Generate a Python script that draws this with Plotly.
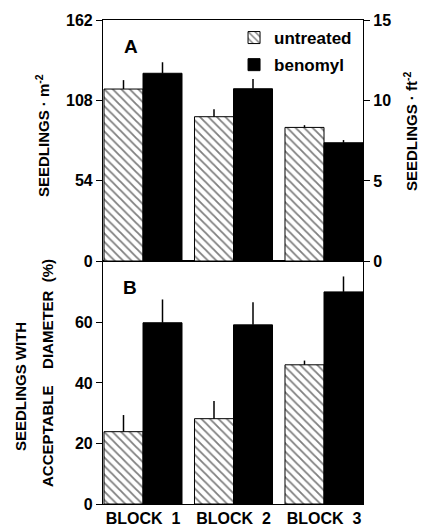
import plotly.graph_objects as go

blocks = [1, 2, 3]
block_labels = ["BLOCK&nbsp; 1", "BLOCK&nbsp; 2", "BLOCK&nbsp; 3"]

# Panel A: seedlings per m^2
a_untreated = [115.6, 97.0, 89.8]
a_untreated_err = [6.0, 5.0, 1.5]
a_benomyl = [126.2, 115.8, 79.5]
a_benomyl_err = [7.4, 6.6, 1.8]

# Panel B: % seedlings with acceptable diameter
b_untreated = [23.9, 28.2, 46.0]
b_untreated_err = [5.5, 5.8, 1.4]
b_benomyl = [59.9, 59.2, 70.1]
b_benomyl_err = [7.7, 7.5, 5.1]

left_ticks_a = [0, 54, 108, 162]
right_ticks_a = [0, 5, 10, 15]
ticks_b = [0, 20, 40, 60]

FONT = "Liberation Sans, Arial, sans-serif"
hatch = dict(shape="\\", size=6, solidity=0.3, fgcolor="black", bgcolor="white", fillmode="overlay")

def err(vals):
    return dict(type="data", array=vals, arrayminus=[0] * len(vals), symmetric=False,
                color="black", thickness=1.5, width=0)

fig = go.Figure()
# Panel A (top)
fig.add_trace(go.Bar(x=blocks, y=a_untreated, error_y=err(a_untreated_err), name="untreated",
                     marker=dict(color="white", pattern=hatch, line=dict(color="black", width=1)),
                     xaxis="x2", yaxis="y2", legendgroup="u"))
fig.add_trace(go.Bar(x=blocks, y=a_benomyl, error_y=err(a_benomyl_err), name="benomyl",
                     marker=dict(color="black", line=dict(color="black", width=1)),
                     xaxis="x2", yaxis="y2", legendgroup="b"))
# dummy trace for right axis
fig.add_trace(go.Scatter(x=[1], y=[0], mode="none", showlegend=False, hoverinfo="skip",
                         xaxis="x2", yaxis="y3"))
# Panel B (bottom)
fig.add_trace(go.Bar(x=blocks, y=b_untreated, error_y=err(b_untreated_err), name="untreated",
                     marker=dict(color="white", pattern=hatch, line=dict(color="black", width=1)),
                     xaxis="x", yaxis="y", showlegend=False))
fig.add_trace(go.Bar(x=blocks, y=b_benomyl, error_y=err(b_benomyl_err), name="benomyl",
                     marker=dict(color="black", line=dict(color="black", width=1)),
                     xaxis="x", yaxis="y", showlegend=False))

tickfont = dict(family=FONT, size=16, color="black", weight="bold")
xr = [0.558, 3.431]
split = 0.502

fig.update_layout(
    width=423, height=527,
    margin=dict(l=103, r=60, t=20, b=23, autoexpand=False),
    paper_bgcolor="white", plot_bgcolor="white",
    barmode="group", bargap=0.138, bargroupgap=0,
    font=dict(family=FONT, color="black"),
    xaxis=dict(domain=[0, 1], range=xr, tickvals=blocks, ticktext=block_labels,
               tickfont=tickfont, ticks="", showline=True, linecolor="black", linewidth=1.2,
               mirror=True, showgrid=False, zeroline=False, anchor="y", automargin=False),
    yaxis=dict(domain=[0, split], range=[0, 80.3], tickvals=ticks_b, tickfont=tickfont,
               ticks="outside", ticklen=6, tickwidth=1.2, tickcolor="black",
               showline=True, linecolor="black", linewidth=1.2, mirror=True,
               showgrid=False, zeroline=False, anchor="x", automargin=False),
    xaxis2=dict(domain=[0, 1], range=xr, showticklabels=False, ticks="", showline=True,
                linecolor="black", linewidth=1.2, mirror=True, showgrid=False,
                zeroline=False, anchor="y2", matches="x", automargin=False),
    yaxis2=dict(domain=[split, 1], range=[0, 162], tickvals=left_ticks_a, tickfont=tickfont,
                ticks="outside", ticklen=6, tickwidth=1.2, tickcolor="black",
                showline=True, linecolor="black", linewidth=1.2,
                showgrid=False, zeroline=False, anchor="x2", automargin=False),
    yaxis3=dict(domain=[split, 1], range=[0, 162 / 10.7639], tickvals=right_ticks_a,
                tickfont=tickfont, ticks="outside", ticklen=6, tickwidth=1.2, tickcolor="black",
                showline=True, linecolor="black", linewidth=1.2, side="right",
                overlaying="y2", showgrid=False, zeroline=False, anchor="x2", automargin=False),
    legend=dict(x=0.504, y=1.0, xanchor="left", yanchor="top", bgcolor="rgba(0,0,0,0)",
                font=dict(family=FONT, size=17, color="black", weight="bold"),
                tracegroupgap=2, itemclick=False),
    showlegend=True,
)

title_font = dict(family=FONT, size=15, color="black", weight="bold")
annos = [
    dict(text="SEEDLINGS · m<sup>-2</sup>", x=42, y=136, textangle=-90),
    dict(text="SEEDLINGS · ft<sup>-2</sup>", x=410, y=131, textangle=-90),
    dict(text="SEEDLINGS WITH", x=20, y=387, textangle=-90),
    dict(text="ACCEPTABLE&nbsp;&nbsp;&nbsp; DIAMETER&nbsp; (%)", x=47, y=373, textangle=-90),
]
for a in annos:
    fig.add_annotation(text=a["text"], textangle=a["textangle"], showarrow=False,
                       xref="paper", yref="paper",
                       x=(a["x"] - 103) / 260, y=(504 - a["y"]) / 484,
                       xanchor="center", yanchor="middle", font=title_font)
for lbl, px, py in [("A", 131, 47), ("B", 130, 288)]:
    fig.add_annotation(text=lbl, showarrow=False, xref="paper", yref="paper",
                       x=(px - 103) / 260, y=(504 - py) / 484, xanchor="center", yanchor="middle",
                       font=dict(family=FONT, size=19, color="black", weight="bold"))

fig.write_html("out.html", config={"displayModeBar": False},
               post_script="document.body.style.margin='0';document.body.style.overflow='hidden';")
